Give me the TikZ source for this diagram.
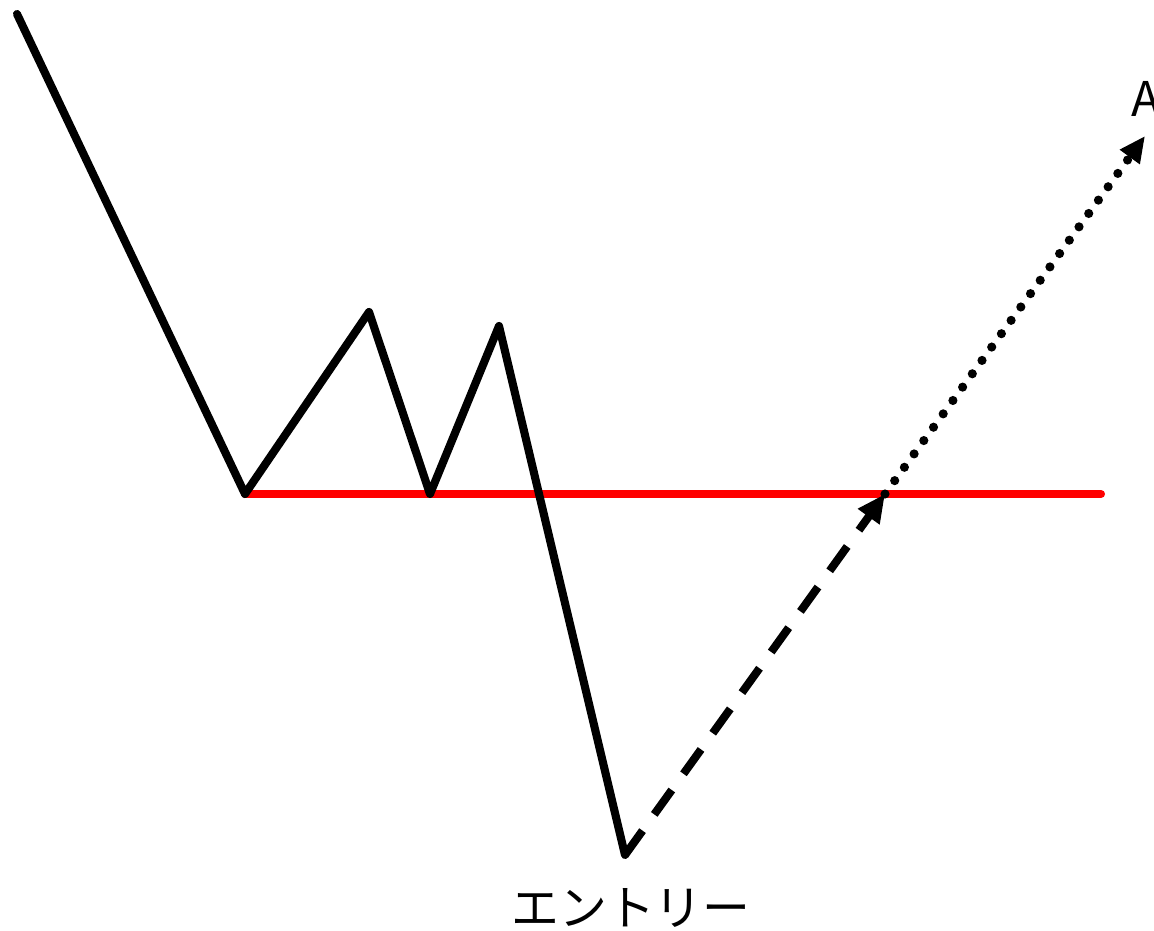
\documentclass[tikz,border=0pt]{standalone}
\usepackage{fontspec}
\setmainfont{Noto Sans CJK JP}
\usetikzlibrary{arrows.meta}

\tikzset{
  chart/.style={line width=2.3pt, line join=round, line cap=round},
  level/.style={red, line width=2.3pt, line cap=round},
  jump/.style={line width=2.3pt, dash pattern=on 0.3cm off 0.2cm, -{Triangle[length=0.28cm, width=0.25cm]}},
  target/.style={line width=2.6pt, line cap=round, dash pattern=on 0pt off 0.165cm, -{Triangle[length=0.26cm, width=0.23cm]}},
  lbl/.style={font=\fontsize{13.6}{16}\selectfont, inner sep=0pt}
}

\begin{document}
\begin{tikzpicture}[x=0.01cm, y=-0.01cm]
  \useasboundingbox (0,0) rectangle (1154,931);
  \clip (0,0) rectangle (1154,931);

  % price path
  \coordinate (p0) at (17,14);
  \coordinate (p1) at (245,494);
  \coordinate (p2) at (369,312);
  \coordinate (p3) at (430,494);
  \coordinate (p4) at (499,326);
  \coordinate (p5) at (625,855);

  % support line
  \coordinate (lineend) at (1101,494);
  \coordinate (brk) at (885,494);
  \coordinate (goal) at (1145,136);

  \draw[level] (p1) -- (lineend);
  \draw[chart] (p0) -- (p1) -- (p2) -- (p3) -- (p4) -- (p5);

  % moves after entry
  \draw[jump] (p5) -- (brk);
  \draw[target] (brk) -- (goal);

  \node[lbl] (entry) at (631,908) {エントリー};
  \node[lbl, anchor=west] (amark) at (1131,99) {A};
\end{tikzpicture}
\end{document}
